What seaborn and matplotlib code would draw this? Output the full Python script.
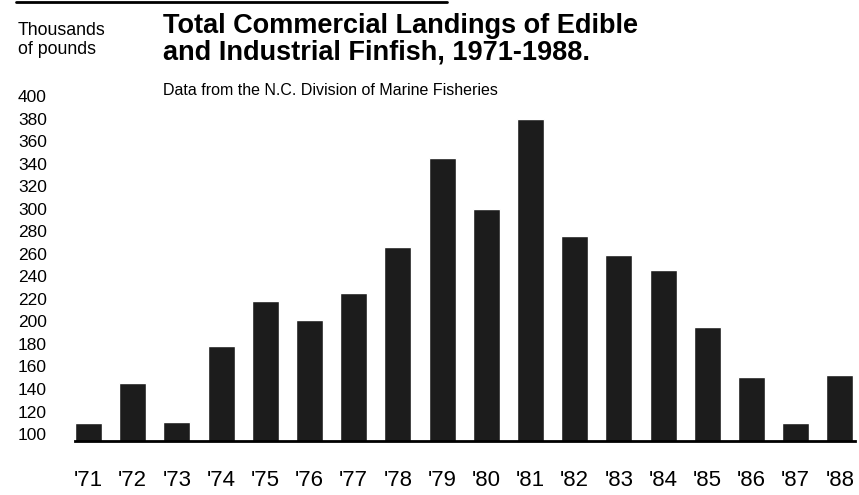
import pandas as pd
import matplotlib.pyplot as plt
import seaborn as sns
from matplotlib.lines import Line2D

# --- Data ---
years = ["'71", "'72", "'73", "'74", "'75", "'76", "'77", "'78", "'79",
         "'80", "'81", "'82", "'83", "'84", "'85", "'86", "'87", "'88"]
landings = [110, 145, 111, 178, 218, 201, 225, 266, 345,
            300, 380, 276, 259, 246, 195, 151, 110, 152]
y_ticks = list(range(100, 401, 20))

df = pd.DataFrame({"year": years, "landings": landings})

sns.set_style("white")
plt.rcParams['font.family'] = ['Liberation Sans', 'DejaVu Sans']
plt.rcParams['text.color'] = 'black'
plt.rcParams['xtick.color'] = 'black'
plt.rcParams['ytick.color'] = 'black'

fig = plt.figure(figsize=(8.59, 4.95), dpi=100)
ax = fig.add_axes([0.0773, 0.109, 0.922, 0.697])

sns.barplot(data=df, x="year", y="landings", color="#1c1c1c",
            saturation=1, width=0.61, ax=ax)

ax.set_ylim(93.8, 400)
ax.set_xlim(-0.5, 17.42)
ax.set_yticks(y_ticks)
ax.set_yticklabels([str(v) for v in y_ticks], ha="left")
ax.tick_params(axis="y", length=0, pad=34.8, labelsize=12.5)
ax.tick_params(axis="x", length=0, pad=21)
for lbl in ax.get_xticklabels():
    lbl.set_fontfamily(['Liberation Sans Narrow', 'Liberation Sans', 'DejaVu Sans'])
    lbl.set_fontsize(16)
ax.set_xlabel("")
ax.set_ylabel("")

for s in ["top", "right", "left"]:
    ax.spines[s].set_visible(False)
ax.spines["bottom"].set_bounds(-0.3, 17.35)
ax.spines["bottom"].set_linewidth(2)
ax.spines["bottom"].set_color("black")

# --- Texts ---
fig.text(0.19, 0.974, "Total Commercial Landings of Edible\nand Industrial Finfish, 1971-1988.",
         fontsize=19.5, fontweight="bold", va="top", ha="left", linespacing=1.03)
fig.text(0.19, 0.818, "Data from the N.C. Division of Marine Fisheries",
         fontsize=11.5, va="center", ha="left")
fig.text(0.021, 0.956, "Thousands\nof pounds", fontsize=12.8, va="top", ha="left",
         linespacing=1.2)

# top rule
fig.add_artist(Line2D([0.019, 0.52], [0.995, 0.995], color="black", linewidth=2,
                      transform=fig.transFigure))

plt.savefig("out.png", dpi=100)
plt.close()
